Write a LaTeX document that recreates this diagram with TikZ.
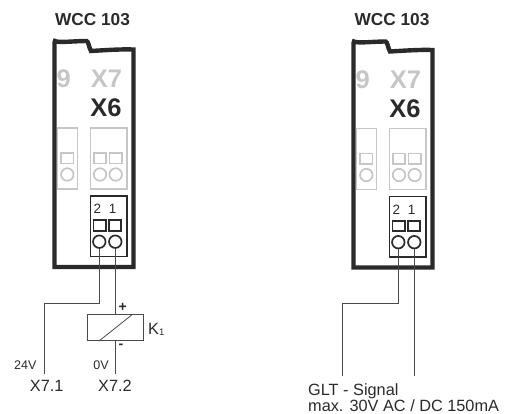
\documentclass[tikz,border=0pt]{standalone}
\usepackage{fontspec}
\setmainfont{Liberation Sans}
\definecolor{ink}{HTML}{2B2A29}
\definecolor{pale}{HTML}{C6C6C5}
\definecolor{wire}{HTML}{4A4A49}
\tikzset{
  x=1pt,y=-1pt,
  wallline/.style={draw=ink,line width=4.4pt,line join=miter},
  sqbox/.style={rectangle,draw=#1,line width=1.7pt,inner sep=0pt,minimum width=12.3pt,minimum height=10.4pt},
  rnd/.style={circle,draw=#1,line width=1.7pt,inner sep=0pt,minimum size=12.5pt},
  frame/.style={draw=#1,line width=1.7pt},
  wireline/.style={draw=wire,line width=1pt},
  title/.style={font=\fontsize{17.3}{19}\bfseries\selectfont,text=ink,inner sep=0pt},
  big/.style={font=\fontsize{25.5}{28}\bfseries\selectfont,text=#1,inner sep=0pt,anchor=base},
  num/.style={font=\fontsize{13.5}{15}\selectfont,text=ink,inner sep=0pt,anchor=base},
  lab/.style={font=\fontsize{16.3}{18}\selectfont,text=ink,inner sep=0pt,anchor=base},
  small/.style={font=\fontsize{12.5}{14}\selectfont,text=ink,inner sep=0pt,anchor=base},
}
\newcommand{\wccmodule}[2]{%
  \begin{scope}[shift={(#1,#2)}]
    \begin{scope}
      \clip (56.5,60) rectangle (132,120);
      \node[big=pale,anchor=base east] at (71,87.8) {9};
    \end{scope}
    \node[big=pale] at (106.5,87.8) {X7};
    \node[big=ink] at (106,116.8) {X6};
    \draw[wallline] (54.5,269) -- (54.5,42.5) -- (55,41) .. controls (58,43) and (75,41) .. (86.5,41)
      .. controls (88.5,41) and (89,48) .. (91,51) .. controls (100,50.5) and (120,49) .. (133.5,49.5) -- (133.5,267) -- (52.3,267);
    \draw[frame=pale] (57.5,128) rectangle (77.5,189);
    \draw[frame=pale] (90.5,128) rectangle (127,189);
    \node[sqbox=pale] at (67.3,158.3) {};
    \node[rnd=pale] at (67.3,174.5) {};
    \node[sqbox=pale] at (100,158.3) {};
    \node[sqbox=pale] at (115.7,158.3) {};
    \node[rnd=pale] at (100,174.5) {};
    \node[rnd=pale] at (115.7,174.5) {};
    \draw[frame=ink] (90.5,196) rectangle (127,256.5);
    \node[num] at (97.3,214) {2};
    \node[num] at (112.7,214) {1};
    \node[sqbox=ink] at (99.7,225.5) {};
    \node[sqbox=ink] at (115,225.5) {};
  \end{scope}}
\begin{document}
\begin{tikzpicture}
\useasboundingbox (0,0) rectangle (512,414);
\node[title] (tl) at (92.5,19.2) {WCC 103};
\node[title] (tr) at (392,19.2) {WCC 103};
\wccmodule{0}{0}
\wccmodule{299}{0.5}
% left terminals
\node[rnd=ink] (la) at (99.3,241.7) {};
\node[rnd=ink] (lb) at (115.3,241.7) {};
\node[rectangle,draw=wire,line width=1pt,minimum width=55.5pt,minimum height=26pt,inner sep=0pt] (relay) at (115.5,328) {};
\coordinate (lbend1) at (99.3,303.5);
\coordinate (lbend2) at (44,303.5);
\coordinate (lend1) at (44,374);
\coordinate (lend2) at (115.5,374);
\draw[wireline] (la) -- (lbend1) -- (lbend2) -- (lend1);
\draw[wireline] (lb.south) -- (lb.south |- relay.north);
\draw[wireline] (relay.south) -- (lend2);
\coordinate (da) at (99,341);
\coordinate (db) at (131.7,315);
\draw[wireline,line width=0.8pt] (da) -- (db);
\node[font=\fontsize{14}{16}\bfseries\selectfont,text=ink,inner sep=0pt] (plus) at (122.8,307.5) {+};
\node[font=\fontsize{14}{16}\bfseries\selectfont,text=ink,inner sep=0pt] (minus) at (121,346) {-};
\node[lab,anchor=base west] (k) at (148,335) {K\raisebox{-0.5pt}{\fontsize{9.5}{10}\selectfont 1}};
\node[small] (v24) at (25.3,370) {24V};
\node[small] (v0) at (101,370) {0V};
\node[lab] (x71) at (46.7,391.7) {X7.1};
\node[lab] (x72) at (115,391.7) {X7.2};
% right terminals
\node[rnd=ink] (ra) at (398.3,242.2) {};
\node[rnd=ink] (rb) at (414.3,242.2) {};
\coordinate (rbend1) at (398.3,304);
\coordinate (rbend2) at (342.7,304);
\coordinate (rend1) at (342.7,376);
\coordinate (rend2) at (414.3,376);
\draw[wireline] (ra) -- (rbend1) -- (rbend2) -- (rend1);
\draw[wireline] (rb) -- (rend2);
\node[lab,anchor=base west] (g1) at (308,395.5) {GLT - Signal};
\node[lab,anchor=base west] (g2) at (308,411.5) {max. 30V AC / DC 150mA};
\end{tikzpicture}
\end{document}
